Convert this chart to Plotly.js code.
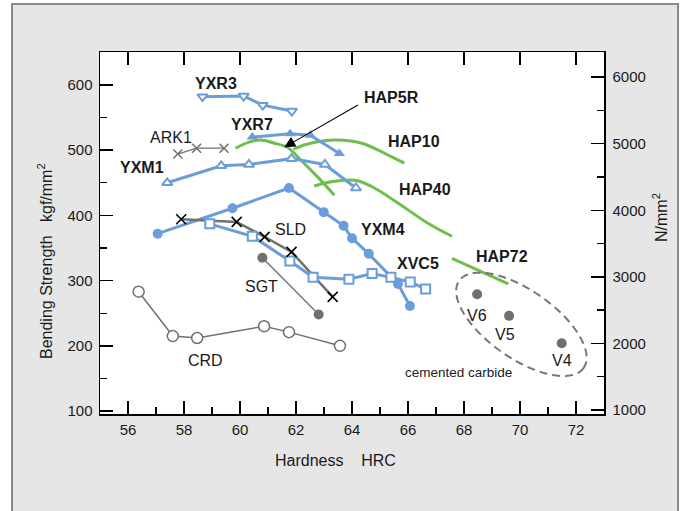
<!DOCTYPE html>
<html>
<head>
<meta charset="utf-8">
<script src="https://cdn.plot.ly/plotly-3.0.1.min.js"></script>
<style>html,body{margin:0;padding:0;background:#fff;}#chart{width:681px;height:511px;}</style>
</head>
<body>
<div id="chart"></div>
<script>
// ---- data (hardness HRC, bending strength kgf/mm2) ----
const yxr3X = [58.66, 60.13, 60.81, 61.85];
const yxr3Y = [582, 583, 569, 560];
const yxr7X = [60.44, 61.79, 62.51, 63.55];
const yxr7Y = [520, 525, 523, 495];
const yxm1X = [57.40, 59.33, 60.32, 61.84, 63.03, 64.14];
const yxm1Y = [450, 476, 478, 487, 478, 442];
const yxm4X = [57.06, 59.73, 61.75, 62.99, 63.70, 64.00, 64.60, 65.64, 66.07];
const yxm4Y = [372, 411, 442, 405, 384, 365, 341, 295, 261];
const xvc5X = [58.92, 60.44, 61.78, 62.61, 63.89, 64.72, 65.39, 66.08, 66.63];
const xvc5Y = [387, 368, 330, 305, 302, 311, 305, 298, 287];
const sldX = [57.90, 59.88, 60.88, 61.84, 63.31];
const sldY = [394, 390, 367, 344, 275];
const sgtX = [60.80, 62.81];
const sgtY = [335, 248];
const crdX = [56.38, 57.60, 58.47, 60.86, 61.75, 63.57];
const crdY = [283, 215, 212, 230, 221, 200];
const ark1X = [57.78, 58.45, 59.43];
const ark1Y = [494, 503, 503];
const carbideNames = ['V6', 'V5', 'V4'];
const carbideX = [68.47, 69.61, 71.49];
const carbideY = [279, 246, 204];
const hap5rX = [59.84, 60.3, 60.74, 61.2, 61.7, 62.17, 62.77, 63.37];
const hap5rY = [503, 512, 515.6, 511, 504, 485, 459, 431];
const hap10X = [61.91, 62.29, 62.77, 63.37, 63.96, 64.44, 64.92, 65.40, 65.87];
const hap10Y = [501.4, 508, 513, 515.6, 514, 509.5, 500.3, 490, 480];
const hap40X = [62.65, 63.25, 63.8, 64.2, 64.8, 65.64, 66.71, 67.57];
const hap40Y = [445, 451.5, 454, 453, 442, 419, 388, 368];
const hap72X = [67.57, 69.58];
const hap72Y = [334, 295];
const xTickVals = [56, 58, 60, 62, 64, 66, 68, 70, 72];
const yTickVals = [100, 200, 300, 400, 500, 600];
const y2TickVals = [1000, 2000, 3000, 4000, 5000, 6000];
const KGF_TO_N = 9.80665;

// ---- styles ----
const BLUE = '#6b9dda', GREEN = '#6cbf4c', GRAY = '#707070', DARK = '#1a1a1a';
const FONT = '"Liberation Sans", Arial, Helvetica, sans-serif';
const X_RANGE = [55, 73];
const Y_RANGE = [95.5, 650.5];

function blueTrace(x, y, symbol, filled) {
  return {x: x, y: y, type: 'scatter', mode: 'lines+markers', hoverinfo: 'skip',
    line: {color: BLUE, width: 3},
    marker: {symbol: symbol, size: filled ? 10 : 9, color: filled ? BLUE : '#ffffff',
             line: {color: BLUE, width: filled ? 0 : 2}}};
}
function greenTrace(x, y) {
  return {x: x, y: y, type: 'scatter', mode: 'lines', hoverinfo: 'skip',
    line: {color: GREEN, width: 3, shape: 'spline', smoothing: 1}};
}

const traces = [
  greenTrace(hap5rX, hap5rY),
  greenTrace(hap10X, hap10Y),
  greenTrace(hap40X, hap40Y),
  greenTrace(hap72X, hap72Y),
  {x: crdX, y: crdY, type: 'scatter', mode: 'lines+markers', hoverinfo: 'skip',
   line: {color: GRAY, width: 1.5},
   marker: {symbol: 'circle', size: 11, color: '#ffffff', line: {color: GRAY, width: 1.5}}},
  {x: sgtX, y: sgtY, type: 'scatter', mode: 'lines+markers', hoverinfo: 'skip',
   line: {color: GRAY, width: 1.3},
   marker: {symbol: 'circle', size: 10, color: GRAY}},
  {x: ark1X, y: ark1Y, type: 'scatter', mode: 'lines+markers', hoverinfo: 'skip',
   line: {color: GRAY, width: 1.3},
   marker: {symbol: 'x-thin-open', size: 9, color: GRAY, line: {color: GRAY, width: 1.5}}},
  blueTrace(yxm4X, yxm4Y, 'circle', true),
  {x: sldX, y: sldY, type: 'scatter', mode: 'lines', hoverinfo: 'skip',
   line: {color: GRAY, width: 2.5}},
  blueTrace(xvc5X, xvc5Y, 'square', false),
  {x: sldX, y: sldY, type: 'scatter', mode: 'markers', hoverinfo: 'skip',
   marker: {symbol: 'x-thin-open', size: 10, color: '#000', line: {color: '#000', width: 1.6}}},
  blueTrace(yxm1X, yxm1Y, 'triangle-up', false),
  blueTrace(yxr7X, yxr7Y, 'triangle-up', true),
  blueTrace(yxr3X, yxr3Y, 'triangle-down', false),
  {x: carbideX, y: carbideY, type: 'scatter', mode: 'markers', hoverinfo: 'skip',
   text: carbideNames, marker: {symbol: 'circle', size: 10, color: GRAY}},
  // invisible helpers so the mirrored axes are drawn
  {x: [X_RANGE[0]], y: [Y_RANGE[0] * KGF_TO_N], xaxis: 'x', yaxis: 'y2', type: 'scatter',
   mode: 'markers', marker: {opacity: 0}, hoverinfo: 'skip'},
  {x: [X_RANGE[0]], y: [Y_RANGE[0]], xaxis: 'x2', yaxis: 'y', type: 'scatter',
   mode: 'markers', marker: {opacity: 0}, hoverinfo: 'skip'}
];

// dashed ellipse around the cemented carbide points (drawn in pixel proportions)
const plotW = 504, plotH = 362;
const pxPerX = plotW / (X_RANGE[1] - X_RANGE[0]);
const pxPerY = plotH / (Y_RANGE[1] - Y_RANGE[0]);
const ellC = {x: 70.05, y: 233}, ellA = 76, ellB = 34, ellAng = 35 * Math.PI / 180;
let ellPath = '';
for (let i = 0; i <= 72; i++) {
  const t = i / 72 * 2 * Math.PI;
  const dx = ellA * Math.cos(ellAng) * Math.cos(t) - ellB * Math.sin(ellAng) * Math.sin(t);
  const dy = ellA * Math.sin(ellAng) * Math.cos(t) + ellB * Math.cos(ellAng) * Math.sin(t);
  const xv = ellC.x + dx / pxPerX, yv = ellC.y - dy / pxPerY;
  ellPath += (i === 0 ? 'M' : 'L') + xv.toFixed(4) + ',' + yv.toFixed(3);
}
ellPath += 'Z';

function lbl(text, x, y, bold, size) {
  return {text: text, x: x, y: y, xref: 'x', yref: 'y', showarrow: false,
    xanchor: 'center', yanchor: 'middle',
    font: {family: FONT, size: size || 16, color: DARK, weight: bold ? 'bold' : 'normal'}};
}
function pageText(text, px, py, angle) {
  return {text: text, xref: 'paper', yref: 'paper', x: (px - 100) / plotW, y: (414 - py) / plotH,
    xanchor: 'center', yanchor: 'middle', textangle: angle || 0, showarrow: false,
    font: {family: FONT, size: 16, color: DARK}};
}

const annotations = [
  lbl('YXR3', 59.13, 601.5, true),
  lbl('YXR7', 60.42, 540, true),
  lbl('ARK1', 57.55, 520, false),
  lbl('YXM1', 56.5, 473.5, true),
  lbl('HAP5R', 65.40, 580, true),
  lbl('HAP10', 66.22, 512.6, true),
  lbl('HAP40', 66.62, 439.7, true),
  lbl('YXM4', 65.10, 379, true),
  lbl('XVC5', 66.35, 325.5, true),
  lbl('HAP72', 69.34, 336.7, true),
  lbl('SLD', 61.79, 379, false),
  lbl('SGT', 60.77, 291.7, false),
  lbl('CRD', 58.77, 178, false),
  lbl(carbideNames[0], 68.48, 247, false),
  lbl(carbideNames[1], 69.45, 218, false),
  lbl(carbideNames[2], 71.49, 177, false),
  lbl('cemented carbide', 67.79, 159, false, 13.5),
  {x: 61.58, y: 504.4, ax: 64.32, ay: 572, axref: 'x', ayref: 'y', xref: 'x', yref: 'y',
   showarrow: true, arrowhead: 2, arrowsize: 2, arrowwidth: 1.1, arrowcolor: '#000', standoff: 0},
  pageText('Hardness\u00a0\u00a0\u00a0\u00a0HRC', 335, 460, 0),
  pageText('Bending Strength\u00a0\u00a0\u00a0kgf/mm<sup>2</sup>', 45, 261, -90),
  pageText('N/mm<sup>2</sup>', 660, 218, -90)
];

const tickFont = {family: FONT, size: 15, color: DARK};
const layout = {
  width: 681, height: 511,
  margin: {l: 100, r: 77, t: 52, b: 97, pad: 0},
  paper_bgcolor: '#ffffff', plot_bgcolor: '#ffffff',
  showlegend: false,
  xaxis: {range: X_RANGE, tickvals: xTickVals, ticks: 'inside', ticklen: 13, tickwidth: 1.5,
    tickcolor: '#000', showline: true, linecolor: '#000', linewidth: 1.5, showgrid: false,
    zeroline: false, tickfont: tickFont, ticklabelstandoff: 1,
    minor: {dtick: 1, tick0: 55, ticks: 'inside', ticklen: 7, tickwidth: 1.3, tickcolor: '#000', showgrid: false}},
  xaxis2: {range: X_RANGE, overlaying: 'x', side: 'top', tickvals: xTickVals, ticks: 'inside',
    ticklen: 13, tickwidth: 1.5, tickcolor: '#000', showline: true, linecolor: '#000',
    linewidth: 1.5, showgrid: false, zeroline: false, showticklabels: false},
  yaxis: {range: Y_RANGE, tickvals: yTickVals, ticks: 'inside', ticklen: 13, tickwidth: 1.5,
    tickcolor: '#000', showline: true, linecolor: '#000', linewidth: 1.5, showgrid: false,
    zeroline: false, tickfont: tickFont, ticklabelstandoff: 3,
    minor: {dtick: 50, tick0: 0, ticks: 'inside', ticklen: 7, tickwidth: 1.3, tickcolor: '#000', showgrid: false}},
  yaxis2: {range: [Y_RANGE[0] * KGF_TO_N, Y_RANGE[1] * KGF_TO_N], overlaying: 'y', side: 'right',
    tickvals: y2TickVals, ticks: 'inside', ticklen: 13, tickwidth: 1.5, tickcolor: '#000',
    showline: true, linecolor: '#000', linewidth: 1.5, showgrid: false, zeroline: false,
    tickfont: tickFont, ticklabelstandoff: 4,
    minor: {dtick: 500, tick0: 0, ticks: 'inside', ticklen: 7, tickwidth: 1.3, tickcolor: '#000', showgrid: false}},
  shapes: [
    {type: 'rect', xref: 'paper', yref: 'paper', layer: 'below',
     x0: (12 - 100) / plotW, x1: (678 - 100) / plotW, y0: (414 - 530) / plotH, y1: (414 - 4) / plotH,
     fillcolor: '#e6e6e6', line: {color: '#8a8a8a', width: 2}},
    {type: 'rect', xref: 'paper', yref: 'paper', layer: 'below', x0: 0, x1: 1, y0: 0, y1: 1,
     fillcolor: '#ffffff', line: {width: 0}},
    {type: 'path', xref: 'x', yref: 'y', path: ellPath, layer: 'above',
     line: {color: '#777777', width: 2, dash: '8px,5px'}}
  ],
  annotations: annotations,
  font: {family: FONT, color: DARK}
};

Plotly.newPlot('chart', traces, layout, {staticPlot: true, displayModeBar: false});
</script>
</body>
</html>
